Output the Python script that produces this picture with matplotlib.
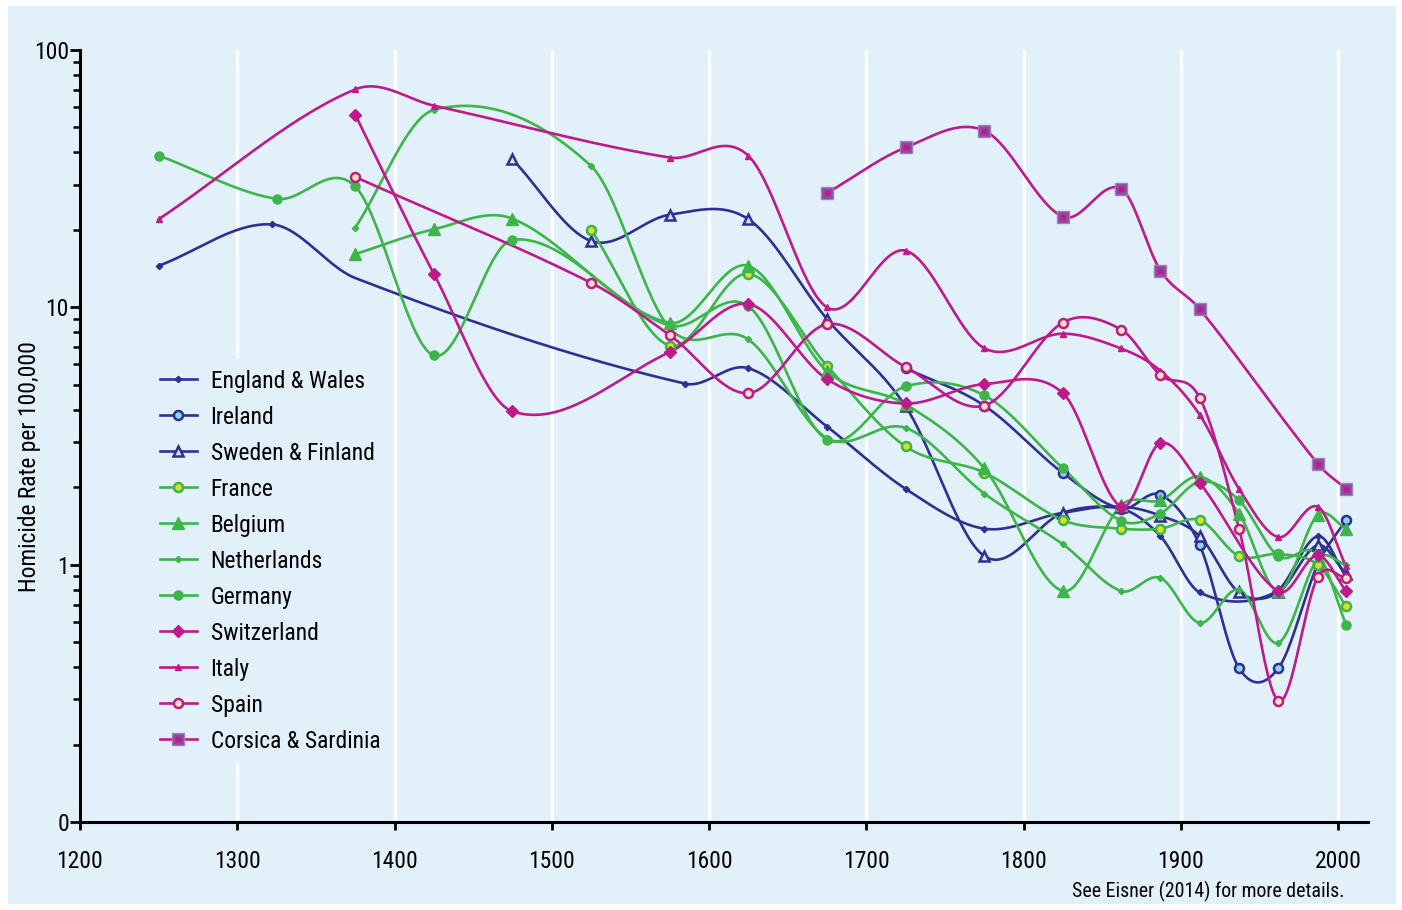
import numpy as np
import matplotlib
matplotlib.use("Agg")
import matplotlib.pyplot as plt
from matplotlib.legend_handler import HandlerTuple
from matplotlib.patches import Rectangle
from matplotlib.ticker import FixedLocator, NullFormatter
from matplotlib import font_manager

# ---------------- data ----------------
england_years = [1250, 1322, 1375, 1585, 1625, 1675, 1725, 1775, 1825, 1862, 1887, 1912, 1960, 1987, 2005]
england_vals = [14.5, 21.0, 13.0, 5.05, 5.8, 3.44, 1.97, 1.38, 1.59, 1.65, 1.29, 0.78, 0.78, 1.29, 0.9]
england_marked = [1, 1, 0, 1, 1, 1, 1, 1, 1, 1, 1, 1, 1, 1, 1]

ireland_years = [1725, 1775, 1825, 1862, 1887, 1912, 1937, 1962, 1987, 2005]
ireland_vals = [5.8, 4.15, 2.27, 1.65, 1.87, 1.19, 0.396, 0.396, 1.0, 1.49]

sweden_years = [1475, 1525, 1575, 1625, 1675, 1725, 1775, 1825, 1862, 1887, 1912, 1937, 1962, 1987, 2005]
sweden_vals = [37.6, 18.1, 22.9, 22.0, 9.0, 4.12, 1.08, 1.59, 1.68, 1.55, 1.29, 0.78, 0.78, 1.19, 0.92]

france_years = [1525, 1575, 1625, 1675, 1725, 1775, 1825, 1862, 1887, 1912, 1937, 1962, 1987, 2005]
france_vals = [20.0, 7.1, 13.5, 5.93, 2.88, 2.28, 1.49, 1.38, 1.38, 1.49, 1.08, 1.1, 1.0, 0.69]

belgium_years = [1375, 1425, 1475, 1575, 1625, 1675, 1725, 1775, 1825, 1862, 1887, 1912, 1937, 1962, 1987, 2005]
belgium_vals = [16.1, 20.1, 22.1, 8.7, 14.5, 5.65, 4.2, 2.37, 0.79, 1.7, 1.78, 2.2, 1.58, 0.79, 1.56, 1.38]

netherlands_years = [1375, 1425, 1525, 1575, 1625, 1675, 1725, 1775, 1825, 1862, 1887, 1912, 1937, 1962, 1987, 2005]
netherlands_vals = [20.4, 58.5, 35.4, 8.3, 7.5, 3.1, 3.4, 1.89, 1.2, 0.79, 0.888, 0.594, 0.80, 0.497, 1.05, 1.0]

germany_years = [1250, 1325, 1375, 1425, 1475, 1575, 1625, 1675, 1725, 1775, 1825, 1862, 1887, 1912, 1937, 1962, 1987, 2005]
germany_vals = [38.9, 26.4, 29.5, 6.5, 18.3, 8.5, 10.1, 3.06, 4.93, 4.55, 2.37, 1.48, 1.58, 2.1, 1.78, 1.08, 1.1, 0.585]

switzerland_years = [1375, 1425, 1475, 1575, 1625, 1675, 1725, 1775, 1825, 1862, 1887, 1912, 1962, 1987, 2005]
switzerland_vals = [56.1, 13.5, 3.94, 6.7, 10.3, 5.26, 4.23, 5.03, 4.64, 1.68, 2.97, 2.08, 0.787, 1.087, 0.79]

italy_years = [1250, 1375, 1425, 1575, 1625, 1675, 1725, 1775, 1825, 1862, 1887, 1912, 1937, 1962, 1987, 2005]
italy_vals = [22.0, 70.3, 60.8, 38.2, 38.8, 10.0, 16.6, 6.94, 7.9, 6.92, 5.67, 3.82, 1.97, 1.28, 1.68, 0.985]

spain_years = [1375, 1525, 1575, 1625, 1675, 1725, 1775, 1825, 1862, 1887, 1912, 1937, 1962, 1987, 2005]
spain_vals = [32.1, 12.45, 7.8, 4.64, 8.6, 5.86, 4.15, 8.73, 8.2, 5.45, 4.45, 1.38, 0.296, 0.893, 0.89]

corsica_years = [1675, 1725, 1775, 1825, 1862, 1887, 1912, 1987, 2005]
corsica_vals = [27.8, 41.8, 48.6, 22.5, 28.9, 13.9, 9.84, 2.47, 1.97]

x_ticks = [1200, 1300, 1400, 1500, 1600, 1700, 1800, 1900, 2000]
y_ticks = [0.1, 1, 10, 100]
y_tick_labels = ["0", "1", "10", "100"]

# ---------------- style ----------------
NAVY = "#2E3192"
GREEN = "#3DB54A"
MAGENTA = "#BE1A8A"
PURPLE = "#8A4C9E"
BG = "#E2F0FA"

names = set(f.name for f in font_manager.fontManager.ttflist)
FONT = "Liberation Sans"
for cand in ["Liberation Sans Narrow", "Arial Narrow", "Roboto Condensed"]:
    if cand in names:
        FONT = cand
        break
plt.rcParams["font.family"] = [FONT, "DejaVu Sans"]


def smooth(xs, ys, n=60):
    x = np.asarray(xs, float)
    y = np.log10(np.asarray(ys, float))
    k = len(x)
    m = np.zeros(k)
    for i in range(k):
        if i == 0:
            m[i] = (y[1] - y[0]) / (x[1] - x[0])
        elif i == k - 1:
            m[i] = (y[-1] - y[-2]) / (x[-1] - x[-2])
        else:
            m[i] = (y[i + 1] - y[i - 1]) / (x[i + 1] - x[i - 1])
    X, Y = [], []
    for i in range(k - 1):
        h = x[i + 1] - x[i]
        t = np.linspace(0, 1, n, endpoint=(i == k - 2))
        h00 = 2 * t**3 - 3 * t**2 + 1
        h10 = t**3 - 2 * t**2 + t
        h01 = -2 * t**3 + 3 * t**2
        h11 = t**3 - t**2
        X.append(x[i] + t * h)
        Y.append(h00 * y[i] + h10 * h * m[i] + h01 * y[i + 1] + h11 * h * m[i + 1])
    return np.concatenate(X), 10 ** np.concatenate(Y)


fig = plt.figure(figsize=(14.02, 9.10), dpi=100, facecolor="white")

# scale the font so that text widths match the reference (condensed look)
_t = fig.text(0, 0, "England & Wales", fontsize=17)
_w = _t.get_window_extent(fig.canvas.get_renderer()).width
_t.remove()
FS = 17 * 154.0 / _w
FSPX = FS * 100 / 72

fig.patches.append(Rectangle((8 / 1402, 6 / 910), 1388 / 1402, 898 / 910,
                             transform=fig.transFigure, facecolor=BG,
                             edgecolor="none", zorder=-10))
ax = fig.add_axes([80 / 1402, 1 - 822 / 910, (1368 - 80) / 1402, (822 - 50) / 910])
ax.set_facecolor(BG)
ax.set_yscale("log")
ax.set_xlim(1200, 2019)
ax.set_ylim(0.1, 100)

LW = 1.9
series = [
    ("England & Wales", england_years, england_vals, NAVY, dict(marker="D", ms=3.2, mfc=NAVY, mec=NAVY, mew=1)),
    ("Ireland", ireland_years, ireland_vals, NAVY, dict(marker="o", ms=6.5, mfc="#8FD3F4", mec=NAVY, mew=1.8)),
    ("Sweden & Finland", sweden_years, sweden_vals, NAVY, dict(marker="^", ms=7, mfc="#D6E4F6", mec=NAVY, mew=1.8)),
    ("France", france_years, france_vals, GREEN, dict(marker="o", ms=6.5, mfc="#D8E02A", mec=GREEN, mew=1.8)),
    ("Belgium", belgium_years, belgium_vals, GREEN, dict(marker="^", ms=8, mfc=GREEN, mec=GREEN, mew=1)),
    ("Netherlands", netherlands_years, netherlands_vals, GREEN, dict(marker="D", ms=3.2, mfc=GREEN, mec=GREEN, mew=1)),
    ("Germany", germany_years, germany_vals, GREEN, dict(marker="o", ms=6.5, mfc=GREEN, mec=GREEN, mew=1)),
    ("Switzerland", switzerland_years, switzerland_vals, MAGENTA, dict(marker="D", ms=6, mfc=MAGENTA, mec=MAGENTA, mew=1)),
    ("Italy", italy_years, italy_vals, MAGENTA, dict(marker="^", ms=5, mfc=MAGENTA, mec=MAGENTA, mew=1)),
    ("Spain", spain_years, spain_vals, MAGENTA, dict(marker="o", ms=6.5, mfc="#FCE3C0", mec=MAGENTA, mew=1.8)),
]

handles, labels = [], []
for name, xs, ys, col, mk in series:
    sx, sy = smooth(xs, ys)
    ax.plot(sx, sy, color=col, lw=LW, zorder=3, solid_capstyle="round")
    if name == "England & Wales":
        every = [bool(v) for v in england_marked]
    else:
        every = None
    ax.plot(xs, ys, linestyle="none", zorder=4, markevery=every, **mk)
    h, = ax.plot([], [], color=col, lw=LW, **mk)
    handles.append(h)
    labels.append(name)

# Corsica & Sardinia
sx, sy = smooth(corsica_years, corsica_vals)
ax.plot(sx, sy, color=MAGENTA, lw=LW, zorder=3)
ax.plot(corsica_years, corsica_vals, linestyle="none", marker="s", ms=9,
        mfc=PURPLE, mec="#A77BBE", mew=1, zorder=4)
ax.plot(corsica_years, corsica_vals, linestyle="none", marker="s", ms=2.5,
        mfc=MAGENTA, mec=MAGENTA, zorder=5)
h1, = ax.plot([], [], color=MAGENTA, lw=LW, marker="s", ms=9, mfc=PURPLE, mec="#A77BBE", mew=1)
h2, = ax.plot([], [], linestyle="none", marker="s", ms=2.5, mfc=MAGENTA, mec=MAGENTA)
handles.append((h1, h2))
labels.append("Corsica & Sardinia")

# grid
ax.set_xticks(x_ticks)
ax.grid(axis="x", color="white", lw=2.4, zorder=0)
ax.grid(axis="y", visible=False)
ax.set_axisbelow(True)

# spines
for s in ["top", "right"]:
    ax.spines[s].set_visible(False)
for s in ["left", "bottom"]:
    ax.spines[s].set_linewidth(2.2)
    ax.spines[s].set_color("black")
    ax.spines[s].set_zorder(6)

ax.yaxis.set_major_locator(FixedLocator(y_ticks))
ax.set_yticklabels(y_tick_labels)
minors = [m * 10.0 ** e for e in (-1, 0, 1) for m in range(2, 10)]
ax.yaxis.set_minor_locator(FixedLocator(minors))
ax.yaxis.set_minor_formatter(NullFormatter())
ax.tick_params(axis="y", which="major", length=7, width=2, direction="out", pad=1, labelsize=FS)
ax.tick_params(axis="y", which="minor", length=5, width=1.8, direction="out")
ax.tick_params(axis="x", which="major", length=6, width=2, direction="out", pad=14, labelsize=FS)
ax.set_xticklabels([str(v) for v in x_ticks])

fig.text(30 / 1402, 1 - 467 / 910, "Homicide Rate per 100,000", rotation=90,
         ha="center", va="center", fontsize=FS)
fig.text(1345 / 1402, 1 - 891 / 910, "See Eisner (2014) for more details.",
         ha="right", va="center", fontsize=FS * 0.85)

leg = ax.legend(handles, labels, loc="upper left",
                bbox_to_anchor=(149 / 1402, 1 - 359 / 910), bbox_transform=fig.transFigure,
                frameon=True, facecolor=BG, edgecolor="none", framealpha=1,
                fontsize=FS, handlelength=37 / FSPX, handletextpad=14 / FSPX,
                labelspacing=0.78 - 5.3 / FSPX, borderpad=0.45, borderaxespad=0,
                handler_map={tuple: HandlerTuple(ndivide=1)})
leg.get_frame().set_linewidth(0)
leg.set_zorder(7)

fig.savefig("out.png", dpi=100, facecolor="white")
